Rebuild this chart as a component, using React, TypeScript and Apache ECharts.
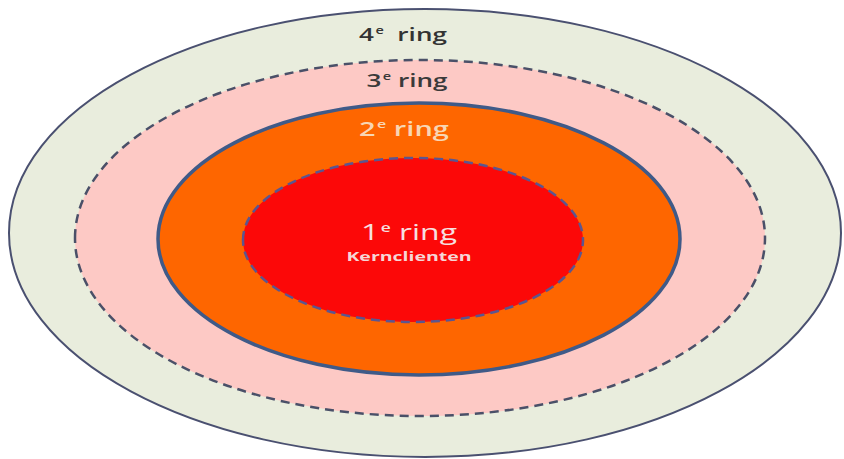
import React, { useEffect, useRef } from "react";
import * as echarts from "echarts";

// Data: ring numbers (inner to outer), the ring word and the core subtitle
const ringNumbers = ["1", "2", "3", "4"];
const ringWord = "ring";
const coreSubtitle = "Kernclienten";

// Layout (pixel space of the 844x459 canvas), inner to outer: [cx, cy, rx, ry]
const ringShapes = [
  [413, 240, 170, 82],
  [419, 239, 261, 136],
  [420, 238, 345, 178],
  [425, 233, 416, 224],
];
const ringFills = ["#fc0808", "#fe6600", "#fdc9c5", "#e9eddd"];
const ringStrokes = ["#5b5690", "#3f5a88", "#4a5068", "#4a5070"];
const ringLineWidths = [2.5, 3.5, 2.5, 2];
const ringDashed = [true, false, true, false];
const labelPos = [
  [409, 232],
  [404, 128],
  [407, 80],
  [403, 34],
];
const labelColors = ["#f6e0e0", "#f8d6b4", "#3a3a3a", "#333333"];
const labelSizes = [22, 20, 18, 18];
const labelWeights = [500, 600, 600, 600];
const stretch = 1.45;

export default function App() {
  const ref = useRef<HTMLDivElement>(null);
  useEffect(() => {
    if (!ref.current) return;
    const chart = echarts.init(ref.current, null, { renderer: "svg" });
    const order = [3, 2, 1, 0];
    const data = order.map((i) => ({ value: [...ringShapes[i], i] }));
    const font = "'Open Sans', 'DejaVu Sans', sans-serif";
    const texts: any[] = ringNumbers.map((n, i) => {
      const fs = labelSizes[i];
      const ss = Math.round(fs * 0.55);
      return {
        type: "text",
        x: labelPos[i][0],
        y: labelPos[i][1],
        scaleX: stretch,
        z: 10,
        style: {
          text: `{n|${n}}{s|e}{n|${i === 3 ? "  " : " "}${ringWord}}`,
          align: "center",
          verticalAlign: "middle",
          rich: {
            n: {
              fontSize: fs,
              fontFamily: font,
              fontWeight: labelWeights[i],
              fill: labelColors[i],
              lineHeight: fs + 6,
              verticalAlign: "middle",
            },
            s: {
              fontSize: ss,
              fontFamily: font,
              fontWeight: 600,
              fill: labelColors[i],
              lineHeight: ss,
              verticalAlign: "top",
              padding: [3, 0, 0, 1],
            },
          },
        },
      };
    });
    texts.push({
      type: "text",
      x: 409,
      y: 256,
      scaleX: 1.5,
      z: 10,
      style: {
        text: coreSubtitle,
        fontSize: 13,
        fontWeight: "bold",
        fontFamily: font,
        fill: "#f6d6d6",
        align: "center",
        verticalAlign: "middle",
      },
    });
    chart.setOption({
      animation: false,
      grid: { left: 0, right: 0, top: 0, bottom: 0 },
      xAxis: { type: "value", min: 0, max: 844, show: false },
      yAxis: { type: "value", min: 0, max: 459, inverse: true, show: false },
      series: [
        {
          type: "custom",
          coordinateSystem: "cartesian2d",
          data,
          renderItem: (params: any, api: any) => {
            const c = api.coord([api.value(0), api.value(1)]);
            const s = api.size([api.value(2), api.value(3)]);
            const i = api.value(4);
            return {
              type: "ellipse",
              shape: { cx: c[0], cy: c[1], rx: s[0], ry: s[1] },
              style: {
                fill: ringFills[i],
                stroke: ringStrokes[i],
                lineWidth: ringLineWidths[i],
                lineDash: ringDashed[i] ? [9, 6] : null,
              },
            };
          },
        },
      ],
      graphic: texts,
    });
    return () => chart.dispose();
  }, []);
  return (
    <div
      ref={ref}
      style={{ position: "fixed", left: 0, top: 0, width: 844, height: 459, background: "#ffffff" }}
    />
  );
}
